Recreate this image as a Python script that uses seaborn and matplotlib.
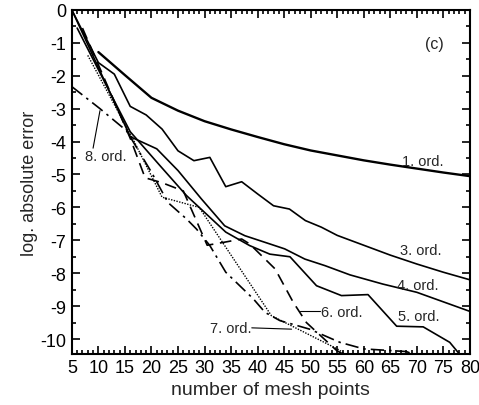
import matplotlib
matplotlib.use("Agg")
import matplotlib.pyplot as plt
import seaborn as sns
import pandas as pd
from matplotlib.ticker import MultipleLocator

sns.set_theme(style="ticks")
plt.rcParams['font.family'] = ['Liberation Sans', 'DejaVu Sans']
plt.rcParams['axes.unicode_minus'] = False

# ---- data ----
x_ord1 = [10, 15, 20, 25, 30, 35, 40, 45, 50, 55, 60, 65, 70, 75, 80]
y_ord1 = [-1.28, -1.98, -2.67, -3.06, -3.38, -3.63, -3.86, -4.08, -4.27, -4.42, -4.57, -4.70, -4.82, -4.94, -5.05]

x_ord3 = [5, 10, 13, 16, 19, 22, 25, 28, 31, 34, 37, 40, 43, 46, 49, 52, 55, 60, 65, 70, 75, 80]
y_ord3 = [0.0, -1.6, -1.95, -2.93, -3.19, -3.62, -4.28, -4.58, -4.48, -5.37, -5.22, -5.59, -5.95, -6.05,
          -6.4, -6.6, -6.85, -7.15, -7.45, -7.72, -7.97, -8.2]

x_ord4 = [5, 16, 21, 25, 29.4, 33.8, 37.6, 42.3, 45.1, 48.9, 52.7, 57.4, 63.6, 70, 80]
y_ord4 = [0.0, -3.85, -4.22, -4.88, -5.74, -6.56, -6.86, -7.11, -7.26, -7.57, -7.77, -8.05, -8.33, -8.58, -9.16]

x_ord5 = [6, 12.8, 16, 21.6, 26.6, 31, 34, 38.5, 42.3, 46.1, 51.1, 55.8, 60.8, 66.2, 71.2, 76.2, 78]
y_ord5 = [-0.55, -2.7, -3.7, -4.73, -5.64, -6.3, -6.75, -7.16, -7.42, -7.5, -8.38, -8.68, -8.65, -9.61,
          -9.63, -10.1, -10.45]

x_ord6 = [7, 16, 18.8, 22, 26, 30.5, 34, 37, 38.5, 43.3, 46.7, 49.2, 54.9, 56]
y_ord6 = [-0.55, -3.9, -5.1, -5.25, -5.5, -7.15, -7.05, -6.96, -7.11, -7.87, -8.88, -9.5, -10.35, -10.45]

x_ord7 = [8, 16.5, 22, 29, 42.6, 55, 56.5]
y_ord7 = [-1.38, -3.92, -5.69, -6.0, -9.29, -10.3, -10.45]

x_ord8 = [5, 10.3, 15.3, 20, 23.1, 26.6, 28.5, 31, 34, 39.2, 41.4, 44.2, 49.8, 55.5, 60, 65, 68, 70]
y_ord8 = [-2.33, -3.0, -3.67, -4.93, -5.85, -6.35, -6.66, -7.16, -7.97, -8.78, -9.19, -9.44, -9.7,
          -10.1, -10.3, -10.35, -10.38, -10.5]

x_ticks = list(range(5, 81, 5))
y_ticks = list(range(-10, 1))

# ---- figure ----
fig = plt.figure(figsize=(4.79, 4.06), dpi=100)
ax = fig.add_axes([0.150, 0.126, 0.831, 0.847])

def draw(xs, ys, lw, ls):
    df = pd.DataFrame({"x": xs, "y": ys})
    sns.lineplot(data=df, x="x", y="y", ax=ax, color="black", lw=lw, linestyle=ls,
                 sort=False, estimator=None)

draw(x_ord1, y_ord1, 1.7, "-")
draw(x_ord3, y_ord3, 1.2, "-")
draw(x_ord4, y_ord4, 1.2, "-")
draw(x_ord5, y_ord5, 1.2, "-")
draw(x_ord6, y_ord6, 1.2, (0, (7, 4)))
draw(x_ord7, y_ord7, 1.0, (0, (1, 1)))
draw(x_ord8, y_ord8, 1.2, (0, (8, 3, 1.5, 3)))

ax.set_xlim(5, 80)
ax.set_ylim(-10.45, 0)
ax.set_xticks(x_ticks)
ax.set_yticks(y_ticks)
ax.set_xticklabels([str(t) for t in x_ticks])
ax.set_yticklabels([str(t) for t in y_ticks])
ax.xaxis.set_minor_locator(MultipleLocator(1))
ax.yaxis.set_minor_locator(MultipleLocator(0.5))
ax.tick_params(which="both", direction="in", top=True, right=True, colors="black",
               labelsize=13, width=1.2, pad=4)
ax.tick_params(which="major", length=6)
ax.tick_params(which="minor", length=3)
for s in ax.spines.values():
    s.set_linewidth(1.5)
    s.set_color("black")

ax.set_xlabel("number of mesh points", fontsize=14, labelpad=3)
ax.set_ylabel("log. absolute error", fontsize=13, labelpad=2)

fs = 10.5
ax.text(73.4, -1.03, "(c)", fontsize=11.5, ha="center", va="center")
ax.text(67.2, -4.6, "1. ord.", fontsize=fs, ha="left", va="center")
ax.text(66.8, -7.3, "3. ord.", fontsize=fs, ha="left", va="center")
ax.text(66.2, -8.36, "4. ord.", fontsize=fs, ha="left", va="center")
ax.text(66.4, -9.3, "5. ord.", fontsize=fs, ha="left", va="center")
ax.text(52.0, -9.17, "6. ord.", fontsize=fs, ha="left", va="center")
ax.text(31.0, -9.67, "7. ord.", fontsize=fs, ha="left", va="center")
ax.text(7.45, -4.44, "8. ord.", fontsize=fs, ha="left", va="center")
ax.plot([48.0, 51.7], [-9.14, -9.14], color="black", lw=0.8)
ax.plot([38.9, 46.4], [-9.66, -9.70], color="black", lw=0.8)
ax.plot([9.0, 10.3], [-4.2, -3.06], color="black", lw=0.8)

fig.savefig("out.png", dpi=100)
